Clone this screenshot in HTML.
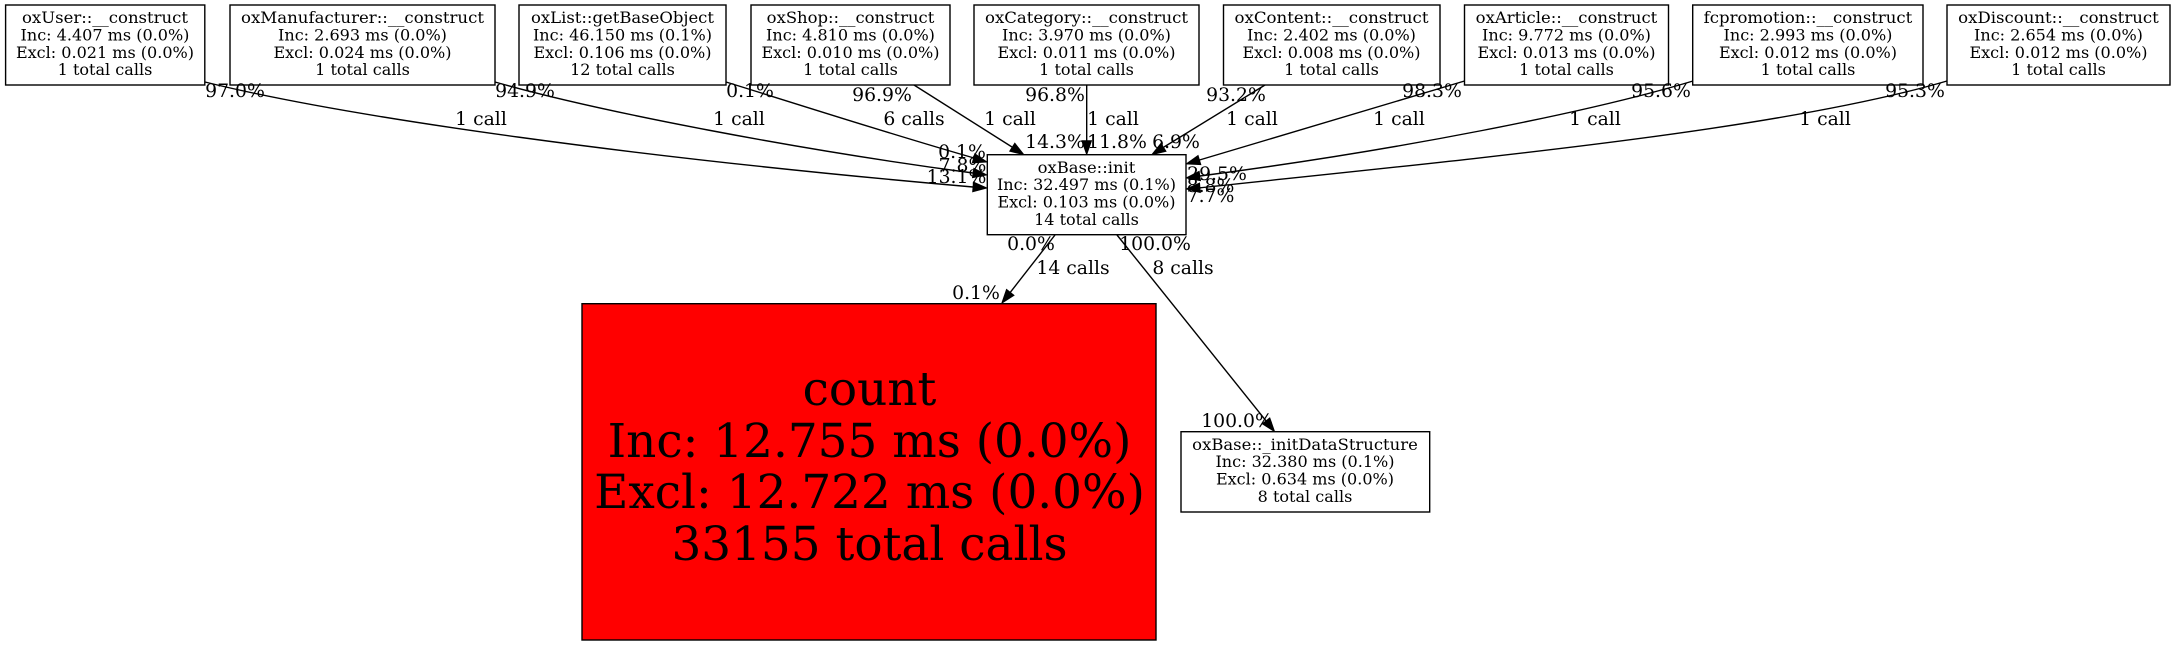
<!DOCTYPE html>
<html><head><meta charset="utf-8"><style>
html,body{margin:0;padding:0;background:#fff;width:2175px;height:645px;overflow:hidden}
svg{display:block}
text{font-family:"DejaVu Serif","Liberation Serif",serif;fill:#000}
.n{font-size:16.05px;text-anchor:middle}
.e{font-size:18.8px;text-anchor:middle}
.c{font-size:46.9px;text-anchor:middle}
rect{stroke:#000;stroke-width:1.4;fill:#fff}
.l{stroke:#000;stroke-width:1.4;fill:none}
.a{fill:#000;stroke:#000;stroke-width:.8}
</style></head><body>
<svg width="2175" height="645" viewBox="0 0 2175 645" xmlns="http://www.w3.org/2000/svg">
<!-- edges -->
<path class="l" d="M205,82C350,118 640,158 973,187"/>
<path class="l" d="M495,82C600,112 800,150 973,173"/>
<path class="l" d="M726,82C810,108 890,134 974,158"/>
<path class="l" d="M914,85L1012,147"/>
<path class="l" d="M1086.7,85L1086.7,141"/>
<path class="l" d="M1265,85L1164,147"/>
<path class="l" d="M1464.5,81L1199.5,160"/>
<path class="l" d="M1693,81C1590,112 1400,150 1200,176"/>
<path class="l" d="M1947,81C1780,130 1480,158 1200,187.8"/>
<path class="l" d="M1055,235L1010.3,292.3"/>
<path class="l" d="M1117,235L1266,420.8"/>
<!-- arrowheads -->
<polygon class="a" points="987,188 973.4,182 972.6,191.8"/>
<polygon class="a" points="987,175 973.8,168.2 972.4,177.8"/>
<polygon class="a" points="987,162 974.8,153.6 972.2,163"/>
<polygon class="a" points="1024,154.7 1014.8,143.1 1009.6,151.3"/>
<polygon class="a" points="1086.7,154.7 1081.8,140.7 1091.6,140.7"/>
<polygon class="a" points="1151.7,154.7 1166.1,151.4 1161,143.2"/>
<polygon class="a" points="1186,164 1200.9,164.7 1198.1,155.4"/>
<polygon class="a" points="1186,178 1200.6,180.8 1199.2,171.2"/>
<polygon class="a" points="1186,189 1200.4,192.6 1199.6,183"/>
<polygon class="a" points="1001.7,303.3 1014.1,295.3 1006.5,289.3"/>
<polygon class="a" points="1274.7,431.7 1269.8,417.8 1262.2,423.8"/>
<!-- nodes -->
<rect x="5.6" y="5" width="199.2" height="80"/>
<text class="n" x="105" y="23" textLength="166" lengthAdjust="spacingAndGlyphs">oxUser::__construct</text><text class="n" x="105" y="40.5">Inc: 4.407 ms (0.0%)</text><text class="n" x="105" y="58">Excl: 0.021 ms (0.0%)</text><text class="n" x="105" y="75">1 total calls</text>
<rect x="230" y="5" width="265" height="80"/>
<text class="n" x="362.5" y="23" textLength="243" lengthAdjust="spacingAndGlyphs">oxManufacturer::__construct</text><text class="n" x="362.5" y="40.5">Inc: 2.693 ms (0.0%)</text><text class="n" x="362.5" y="58">Excl: 0.024 ms (0.0%)</text><text class="n" x="362.5" y="75">1 total calls</text>
<rect x="519" y="5" width="207" height="80"/>
<text class="n" x="622.5" y="23" textLength="183" lengthAdjust="spacingAndGlyphs">oxList::getBaseObject</text><text class="n" x="622.5" y="40.5">Inc: 46.150 ms (0.1%)</text><text class="n" x="622.5" y="58">Excl: 0.106 ms (0.0%)</text><text class="n" x="622.5" y="75">12 total calls</text>
<rect x="751" y="5" width="199" height="80"/>
<text class="n" x="850.5" y="23" textLength="167.6" lengthAdjust="spacingAndGlyphs">oxShop::__construct</text><text class="n" x="850.5" y="40.5">Inc: 4.810 ms (0.0%)</text><text class="n" x="850.5" y="58">Excl: 0.010 ms (0.0%)</text><text class="n" x="850.5" y="75">1 total calls</text>
<rect x="974" y="5" width="225" height="80"/>
<text class="n" x="1086.5" y="23" textLength="203" lengthAdjust="spacingAndGlyphs">oxCategory::__construct</text><text class="n" x="1086.5" y="40.5">Inc: 3.970 ms (0.0%)</text><text class="n" x="1086.5" y="58">Excl: 0.011 ms (0.0%)</text><text class="n" x="1086.5" y="75">1 total calls</text>
<rect x="1223.5" y="5" width="216.5" height="80"/>
<text class="n" x="1331.5" y="23" textLength="194" lengthAdjust="spacingAndGlyphs">oxContent::__construct</text><text class="n" x="1331.5" y="40.5">Inc: 2.402 ms (0.0%)</text><text class="n" x="1331.5" y="58">Excl: 0.008 ms (0.0%)</text><text class="n" x="1331.5" y="75">1 total calls</text>
<rect x="1464.5" y="5" width="204" height="80"/>
<text class="n" x="1566.5" y="23" textLength="181.6" lengthAdjust="spacingAndGlyphs">oxArticle::__construct</text><text class="n" x="1566.5" y="40.5">Inc: 9.772 ms (0.0%)</text><text class="n" x="1566.5" y="58">Excl: 0.013 ms (0.0%)</text><text class="n" x="1566.5" y="75">1 total calls</text>
<rect x="1692.7" y="5" width="230.3" height="80"/>
<text class="n" x="1808" y="23" textLength="208.6" lengthAdjust="spacingAndGlyphs">fcpromotion::__construct</text><text class="n" x="1808" y="40.5">Inc: 2.993 ms (0.0%)</text><text class="n" x="1808" y="58">Excl: 0.012 ms (0.0%)</text><text class="n" x="1808" y="75">1 total calls</text>
<rect x="1947" y="5" width="223" height="80"/>
<text class="n" x="2058.5" y="23" textLength="200.6" lengthAdjust="spacingAndGlyphs">oxDiscount::__construct</text><text class="n" x="2058.5" y="40.5">Inc: 2.654 ms (0.0%)</text><text class="n" x="2058.5" y="58">Excl: 0.012 ms (0.0%)</text><text class="n" x="2058.5" y="75">1 total calls</text>
<rect x="987.3" y="154.7" width="198.7" height="80"/>
<text class="n" x="1086.5" y="173" textLength="97.7" lengthAdjust="spacingAndGlyphs">oxBase::init</text><text class="n" x="1086.5" y="190">Inc: 32.497 ms (0.1%)</text><text class="n" x="1086.5" y="207.3">Excl: 0.103 ms (0.0%)</text><text class="n" x="1086.5" y="225">14 total calls</text>
<rect x="582" y="303.7" width="574" height="336.3" style="fill:#f00"/>
<text class="c" x="869.5" y="405">count</text><text class="c" x="869.5" y="457">Inc: 12.755 ms (0.0%)</text><text class="c" x="869.5" y="508">Excl: 12.722 ms (0.0%)</text><text class="c" x="869.5" y="560">33155 total calls</text>
<rect x="1181" y="431.7" width="248.7" height="80.3"/>
<text class="n" x="1305" y="450" textLength="225.6" lengthAdjust="spacingAndGlyphs">oxBase::_initDataStructure</text><text class="n" x="1305" y="467">Inc: 32.380 ms (0.1%)</text><text class="n" x="1305" y="484.3">Excl: 0.634 ms (0.0%)</text><text class="n" x="1305" y="502">8 total calls</text>
<!-- edge labels -->
<text class="e" x="235" y="97">97.0%</text><text class="e" x="481" y="125">1 call</text>
<text class="e" x="525" y="97">94.9%</text><text class="e" x="739" y="125">1 call</text>
<text class="e" x="750" y="97">0.1%</text><text class="e" x="914" y="125">6 calls</text>
<text class="e" x="882" y="101">96.9%</text><text class="e" x="1010" y="125">1 call</text>
<text class="e" x="1055" y="101">96.8%</text><text class="e" x="1113" y="125">1 call</text>
<text class="e" x="1236" y="101">93.2%</text><text class="e" x="1252" y="125">1 call</text>
<text class="e" x="1432" y="97">98.3%</text><text class="e" x="1399" y="125">1 call</text>
<text class="e" x="1661" y="97">95.6%</text><text class="e" x="1595" y="125">1 call</text>
<text class="e" x="1915" y="97">95.3%</text><text class="e" x="1825" y="125">1 call</text>
<text class="e" x="1055" y="148">14.3%</text><text class="e" x="1117" y="148">11.8%</text><text class="e" x="1176" y="148">6.9%</text>
<text class="e" x="962" y="158">0.1%</text><text class="e" x="962.5" y="171.7">7.8%</text><text class="e" x="956.5" y="183">13.1%</text>
<text class="e" x="1217" y="180">29.5%</text><text class="e" x="1210.5" y="192">8.8%</text><text class="e" x="1210.5" y="202">7.7%</text>
<text class="e" x="1031" y="250">0.0%</text><text class="e" x="1073" y="274">14 calls</text>
<text class="e" x="1155" y="250">100.0%</text><text class="e" x="1183" y="274">8 calls</text>
<text class="e" x="976" y="299">0.1%</text><text class="e" x="1237" y="427">100.0%</text>
</svg>
</body></html>
